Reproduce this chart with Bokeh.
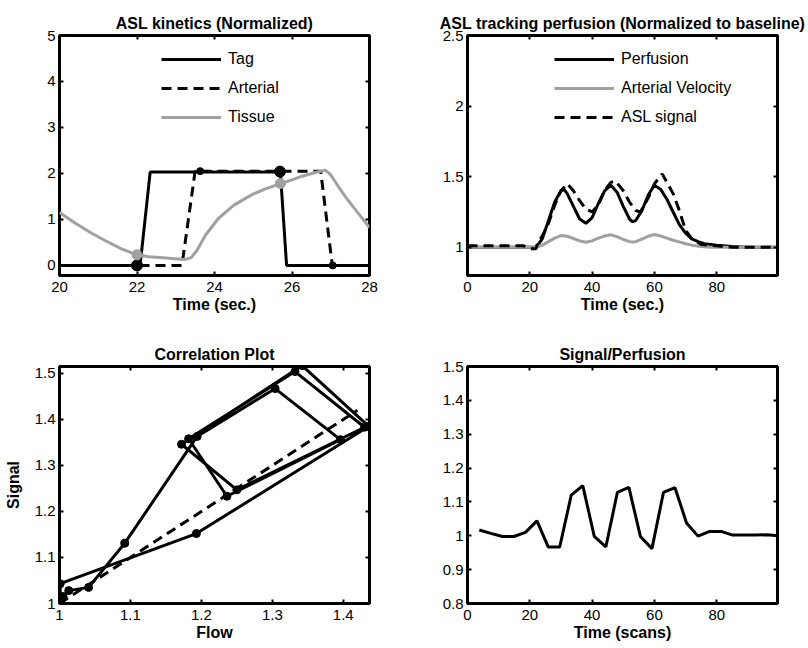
from bokeh.plotting import figure
from bokeh.models import LinearAxis, FixedTicker, CustomJSTickFormatter, Range1d
from bokeh.layouts import column, row
from bokeh.embed import file_html
from bokeh.resources import INLINE

FONT = "Liberation Sans"
GRAY = "#a0a0a0"

# ---------------- Panel 1: ASL kinetics ----------------
tag_t = [20.0, 22.08, 22.34, 25.70, 25.86, 28.0]
tag_v = [0.0, 0.0, 2.03, 2.03, 0.0, 0.0]
art_t = [20.0, 23.16, 23.50, 26.74, 27.04, 28.0]
art_v = [0.0, 0.0, 2.05, 2.05, 0.0, 0.0]
tis_t = [20.0, 20.4, 20.83, 21.2, 21.6, 22.0, 22.3, 22.6, 22.9, 23.25, 23.4, 23.55,
         23.77, 24.1, 24.5, 24.97, 25.3, 25.7, 26.0, 26.26, 26.6, 26.86, 27.0, 27.2,
         27.4, 27.6, 27.8, 28.0]
tis_v = [1.15, 0.92, 0.70, 0.53, 0.36, 0.23, 0.19, 0.17, 0.15, 0.13, 0.17, 0.33,
         0.66, 1.02, 1.31, 1.54, 1.66, 1.78, 1.86, 1.94, 2.02, 2.07, 1.97, 1.71,
         1.47, 1.25, 1.04, 0.82]
tag_dot_t = [22.0, 25.69]
tag_dot_v = [0.0, 2.04]
art_dot_t = [23.63, 27.05]
art_dot_v = [2.05, 0.0]
tis_dot_t = [22.0, 25.7]
tis_dot_v = [0.23, 1.78]
p1_xticks = [20, 22, 24, 26, 28]
p1_yticks = [0, 1, 2, 3, 4, 5]

# ---------------- Panel 2: ASL tracking perfusion ----------------
perf_t = [0, 20, 22, 24, 26, 28, 30, 31, 32, 34, 36, 38, 40, 42, 44, 46, 48, 50, 52,
          53, 54, 56, 58, 60, 62, 64, 66, 68, 70, 72, 74, 76, 78, 80, 85, 90, 99]
perf_v = [1.0, 1.0, 1.0, 1.06, 1.19, 1.32, 1.40, 1.41, 1.38, 1.29, 1.20, 1.17, 1.21,
          1.31, 1.40, 1.44, 1.39, 1.29, 1.20, 1.18, 1.19, 1.26, 1.37, 1.44, 1.41, 1.34,
          1.25, 1.16, 1.10, 1.06, 1.04, 1.025, 1.02, 1.015, 1.005, 1.0, 1.0]
vel_t = [0, 22, 24, 26, 28, 30, 32, 34, 36, 38, 40, 42, 44, 46, 48, 50, 52, 53, 54,
         56, 58, 60, 62, 64, 66, 68, 70, 72, 74, 78, 99]
vel_v = [1.0, 1.0, 1.015, 1.04, 1.065, 1.083, 1.078, 1.062, 1.045, 1.035, 1.045,
         1.065, 1.08, 1.088, 1.075, 1.055, 1.04, 1.037, 1.04, 1.058, 1.078, 1.09,
         1.08, 1.065, 1.05, 1.038, 1.025, 1.015, 1.008, 1.0, 1.0]
asl_t = [0, 18, 20, 22, 22.5, 24, 26, 28, 30, 32, 34, 36, 38, 40, 42, 44, 46, 47.5,
         50, 52, 54, 55.5, 58, 60, 62.5, 64, 66, 68, 70, 72, 75, 80, 85, 99]
asl_v = [1.01, 1.01, 0.99, 0.99, 1.03, 1.08, 1.17, 1.30, 1.40, 1.45, 1.40, 1.33,
         1.27, 1.25, 1.30, 1.40, 1.46, 1.47, 1.40, 1.32, 1.26, 1.25, 1.35, 1.45,
         1.52, 1.46, 1.38, 1.26, 1.12, 1.06, 1.02, 1.01, 1.0, 1.0]
p2_xticks = [0, 20, 40, 60, 80]
p2_yticks = [1, 1.5, 2, 2.5]

# ---------------- Panel 3: Correlation plot ----------------
flow = [1.000, 1.001, 1.000, 1.000, 1.001, 1.001, 1.193, 1.436, 1.342, 1.172, 1.250,
        1.430, 1.332, 1.182, 1.236, 1.396, 1.304, 1.194, 1.092, 1.041, 1.013, 1.005,
        1.002, 1.000, 1.000, 1.000]
signal = [1.015, 1.007, 1.000, 1.000, 1.010, 1.043, 1.152, 1.385, 1.517, 1.346, 1.247,
          1.383, 1.504, 1.358, 1.233, 1.356, 1.467, 1.363, 1.131, 1.035, 1.028, 1.015,
          1.003, 1.000, 1.000, 1.000]
ident_x = [1.0, 1.42]
ident_y = [1.0, 1.42]
p3_xticks = [1, 1.1, 1.2, 1.3, 1.4]
p3_yticks = [1, 1.1, 1.2, 1.3, 1.4, 1.5]

# ---------------- Panel 4: Signal/Perfusion ----------------
scan_t = [3.8, 7.5, 11.2, 14.9, 18.6, 22.3, 25.9, 29.6, 33.3, 37.0, 40.7, 44.4, 48.1,
          51.8, 55.5, 59.2, 62.9, 66.6, 70.3, 74.0, 77.7, 81.4, 85.1, 88.8, 92.5, 96.2,
          99.9]
ratio = [1.017, 1.007, 0.998, 0.998, 1.010, 1.044, 0.967, 0.967, 1.120, 1.148, 0.998,
         0.967, 1.128, 1.143, 0.998, 0.962, 1.128, 1.142, 1.038, 0.999, 1.013, 1.013,
         1.002, 1.002, 1.002, 1.003, 1.0]
p4_xticks = [0, 20, 40, 60, 80]
p4_yticks = [0.8, 0.9, 1, 1.1, 1.2, 1.3, 1.4, 1.5]

FMT = "return String(Math.round(tick*10)/10);"


def style_axis(ax, ticks, labels, axis_label=None, side="x"):
    ax.ticker = FixedTicker(ticks=ticks)
    ax.formatter = CustomJSTickFormatter(code=FMT)
    ax.major_tick_in = 4
    ax.major_tick_out = 0
    ax.minor_tick_line_color = None
    ax.major_tick_line_width = 2
    ax.major_tick_line_color = "black"
    ax.axis_line_color = None
    ax.major_label_text_font = FONT
    if labels:
        ax.major_label_text_color = "black"
        ax.major_label_text_font_size = "15px"
        ax.major_label_standoff = 6 if side == "x" else 4
    else:
        ax.major_label_text_color = None
        ax.major_label_text_font_size = "1px"
        ax.major_label_standoff = 0
    if axis_label:
        ax.axis_label = axis_label
        ax.axis_label_text_font = FONT
        ax.axis_label_text_font_size = "16px"
        ax.axis_label_text_font_style = "bold"
        ax.axis_label_text_color = "black"
        ax.axis_label_standoff = 1 if side == "x" else 10


def make_fig(title, xr, yr, xticks, yticks, xlabel, ylabel, left, right, top, bottom,
             fh):
    p = figure(output_backend="svg", toolbar_location=None, tools="",
               frame_width=310, frame_height=fh,
               x_range=Range1d(*xr), y_range=Range1d(*yr),
               min_border_left=left, min_border_right=right,
               min_border_top=top, min_border_bottom=bottom)
    p.title.text = title
    p.title.align = "center"
    p.title.text_font = FONT
    p.title.text_font_size = "16px"
    p.title.text_font_style = "bold"
    p.title.text_color = "black"
    p.title.standoff = 8
    p.xgrid.visible = False
    p.ygrid.visible = False
    p.outline_line_color = "black"
    p.outline_line_width = 3
    p.outline_line_alpha = 1
    p.background_fill_color = "white"
    p.border_fill_color = "white"
    style_axis(p.xaxis[0], xticks, True, xlabel, "x")
    style_axis(p.yaxis[0], yticks, True, ylabel, "y")
    top_ax = LinearAxis()
    style_axis(top_ax, xticks, False)
    p.add_layout(top_ax, "above")
    right_ax = LinearAxis()
    style_axis(right_ax, yticks, False)
    p.add_layout(right_ax, "right")
    return p


def style_legend(p, loc):
    lg = p.legend[0]
    lg.location = loc
    lg.border_line_color = None
    lg.background_fill_alpha = 0
    lg.glyph_width = 60
    lg.glyph_height = 20
    lg.label_height = 20
    lg.spacing = 9
    lg.padding = 0
    lg.margin = 0
    lg.label_standoff = 7
    lg.label_text_font = FONT
    lg.label_text_font_size = "16px"
    lg.label_text_color = "black"


LW = 3

# Panel 1
p1 = make_fig("ASL kinetics (Normalized)", (20, 28), (-0.22, 5), p1_xticks, p1_yticks,
              "Time (sec.)", None, 59, 35, 35, 45, 240)
p1.line(tag_t, tag_v, line_color="black", line_width=LW, legend_label="Tag")
p1.line(art_t, art_v, line_color="black", line_width=LW, line_dash="10 6",
        legend_label="Arterial")
p1.line(tis_t, tis_v, line_color=GRAY, line_width=LW, legend_label="Tissue")
p1.scatter(tag_dot_t, tag_dot_v, size=11, color="black")
p1.scatter(art_dot_t, art_dot_v, size=7, color="black")
p1.scatter(tis_dot_t, tis_dot_v, size=10, color=GRAY)
style_legend(p1, (102, 148))

# Panel 2
p2 = make_fig("ASL tracking perfusion (Normalized to baseline)", (0, 99.5), (0.8, 2.5),
              p2_xticks, p2_yticks, "Time (sec.)", None, 63, 30, 35, 45, 240)
p2.line(perf_t, perf_v, line_color="black", line_width=LW, legend_label="Perfusion")
p2.line(vel_t, vel_v, line_color=GRAY, line_width=LW, legend_label="Arterial Velocity")
p2.line(asl_t, asl_v, line_color="black", line_width=LW, line_dash="10 6",
        legend_label="ASL signal")
style_legend(p2, (87, 148))

# Panel 3
p3 = make_fig("Correlation Plot", (1.0, 1.437), (1.0, 1.515), p3_xticks, p3_yticks,
              "Flow", "Signal", 59, 35, 46, 44, 237)
p3.line(ident_x, ident_y, line_color="black", line_width=LW, line_dash="10 6")
p3.line(flow, signal, line_color="black", line_width=LW)
p3.scatter(flow, signal, size=8, color="black")

# Panel 4
p4 = make_fig("Signal/Perfusion", (0, 99.5), (0.8, 1.5), p4_xticks, p4_yticks,
              "Time (scans)", None, 63, 30, 46, 44, 237)
p4.line(scan_t, ratio, line_color="black", line_width=LW)

layout = column(row(p1, p2), row(p3, p4))
open("out.html", "w").write(file_html(layout, INLINE))
